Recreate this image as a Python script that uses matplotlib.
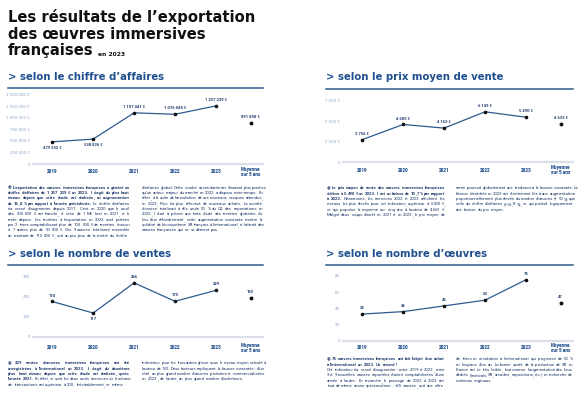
import numpy as np
import matplotlib.pyplot as plt
from matplotlib.lines import Line2D

# DATA

years = ["2019", "2020", "2021", "2022", "2023"]
avg_name = "Moyenne\nsur 5 ans"

ca_values = [479252, 538826, 1107441, 1076048, 1257239]
ca_avg = 891808
ca_ticks = [0, 250000, 500000, 750000, 1000000, 1250000, 1500000]

prix_values = [2756, 4605, 4163, 6149, 5490]
prix_avg = 4633
prix_ticks = [0, 2500, 5000, 7500]

ventes_values = [174, 117, 266, 175, 229]
ventes_avg = 192
ventes_ticks = [0, 100, 200, 300]

oeuvres_values = [33, 36, 43, 50, 75]
oeuvres_avg = 47
oeuvres_ticks = [0, 20, 40, 60, 80]

# TEXTS (lines as laid out in the reference, number of bold words per line)

p1_left = [
    "◉ L’exportation des œuvres immersives françaises a généré un",
    "chiffre d’affaires de 1 257 239 € en 2023. Il s’agit du plus haut",
    "niveau depuis que cette étude est réalisée, en augmentation",
    "de 16,8 % par rapport à l’année précédente. Le chiffre d’affaires",
    "n’a cessé d’augmenter depuis 2017. C’est en 2020 que le seuil",
    "des 500 000 € est franchi, et celui de 1 M€ l’est en 2021, et le",
    "reste depuis. Les recettes à l’exportation en 2023 sont portées",
    "par 2 titres comptabilisant plus de 100 000 € de recettes chacun",
    "et 7 autres plus de 50 000 €. Ces 9 œuvres totalisent ensemble",
    "un montant de 713 000 €, soit un peu plus de la moitié du chiffre",
]
p1_left_bold = [99, 99, 99, 8]
p1_right = [
    "d’affaires global. Cette courbe ascendante est d’autant plus positive",
    "qu’un acteur majeur du marché en 2022 a disparu entre-temps. En",
    "effet, à la suite de l’annulation de ses nouveaux casques attendus,",
    "en 2023, Pico n’a plus effectué de nouveaux achats. La société",
    "chinoise totalisait à elle seule 50 % du CA des exportations en",
    "2022, il était à prévoir une forte chute des recettes globales. Au",
    "lieu d’un effondrement, cette augmentation constante montre la",
    "solidité de l’écosystème XR français à l’international, et l’attrait des",
    "œuvres françaises qui ne se dément pas.",
]

p2_left = [
    "◉ Le prix moyen de vente des œuvres immersives françaises",
    "s’élève à 5 490 € en 2023. Il est en baisse de 10,7 % par rapport",
    "à 2022. Néanmoins, les exercices 2022 et 2023 affichent les",
    "niveaux les plus élevés pour cet indicateur, supérieur à 5 000 €,",
    "ce qui propulse la moyenne sur cinq ans à hauteur de 4 633 €.",
    "Malgré deux coups d’arrêt en 2021 et en 2023, le prix moyen de",
]
p2_left_bold = [99, 99, 2]
p2_right = [
    "vente poursuit globalement une tendance à la hausse constante. La",
    "flexion identifiée en 2023 est étroitement liée à une augmentation",
    "proportionnellement plus élevée du nombre d’œuvres (+ 50 %) que",
    "celle du chiffre d’affaires (+16,8 %), ce qui produit logiquement",
    "une baisse du prix moyen.",
]

p3_left = [
    "◉ 229 ventes d’œuvres immersives françaises ont été",
    "enregistrées à l’international en 2023. Il s’agit du deuxième",
    "plus haut niveau depuis que cette étude est réalisée, après",
    "l’année 2021. En effet, ce sont les deux seuls exercices où le volume",
    "de transactions est supérieur à 200. Inévitablement, ce même",
]
p3_left_bold = [99, 99, 99, 2]
p3_right = [
    "indicateur pour les trois autres glisse sous le niveau moyen calculé à",
    "hauteur de 192. Deux facteurs expliquent la hausse constatée : d’un",
    "côté, un plus grand nombre d’œuvres produites et commercialisées",
    "en 2023 ; de l’autre, un plus grand nombre d’acheteurs.",
]

p4_left = [
    "◉ 75 œuvres immersives françaises ont fait l’objet d’un achat",
    "à l’international en 2023. Un record !",
    "Cet indicateur n’a cessé d’augmenter : entre 2019 et 2022, entre",
    "3 et 9 nouvelles œuvres exportées étaient comptabilisées d’une",
    "année à l’autre. En revanche, le passage de 2022 à 2023 est",
    "tout de même assez spectaculaire : +25 œuvres, soit une offre",
]
p4_left_bold = [99, 99]
p4_right = [
    "de titres en circulation à l’international qui progresse de 50 %",
    "en l’espace d’un an. La bonne santé de la production de XR en",
    "France est ici très lisible, tout comme l’augmentation des lieux",
    "dédiés (festivals XR, arcades, expositions, etc.) en recherche de",
    "contenus originaux.",
]

# STYLE

W, H = 586, 399
FONT = ["Roboto", "DejaVu Sans"]
HEAD = ["DejaVu Sans"]
BLUE = "#1f4f8f"
NAVY = "#1d3a6b"
LINE = "#2d5b8e"
TICK = "#8aa3c6"
BASE = "#dcdeea"
BODY = 3.1

fig = plt.figure(figsize=(W / 100, H / 100), dpi=100)
fig.patch.set_facecolor("white")
renderer = fig.canvas.get_renderer()


def fx(x):
    return x / W


def fy(y):
    return 1 - y / H


def euro(v):
    return f"{v:,}".replace(",", " ") + " €"


def plain(v):
    return str(v)


# TITLE

fig.text(fx(8), fy(22), "Les résultats de l’exportation", family=HEAD,
         fontsize=10.6, fontweight="bold", color="#111111", va="baseline")
fig.text(fx(8), fy(39), "des œuvres immersives", family=HEAD,
         fontsize=10.6, fontweight="bold", color="#111111", va="baseline")
t3 = fig.text(fx(8), fy(55.5), "françaises", family=HEAD,
              fontsize=10.6, fontweight="bold", color="#111111", va="baseline")
t3_end = 8 + t3.get_window_extent(renderer).width
fig.text(fx(t3_end + 4), fy(55.5), "en 2023", family=HEAD,
         fontsize=4.3, fontweight="bold", color="#111111", va="baseline")


# SECTION HEADINGS

def heading(x0, x1, y, text):
    fig.text(fx(x0), fy(y), "> " + text, family=HEAD, fontsize=7.3,
             fontweight="bold", color=BLUE, va="baseline")
    fig.add_artist(Line2D([fx(x0), fx(x1)], [fy(y + 8), fy(y + 8)],
                          color=LINE, lw=1.1))


heading(8, 263, 80, "selon le chiffre d’affaires")
heading(326, 573, 80.5, "selon le prix moyen de vente")
heading(8, 263, 257, "selon le nombre de ventes")
heading(326, 573, 257, "selon le nombre d’œuvres")


# CHARTS

x_pos = np.arange(len(years))
x_avg = 4.85


def chart(left, right, top, bottom, values, avg, ticks, fmt, below, lab_off):
    ax = fig.add_axes([fx(left), fy(bottom), (right - left) / W,
                       (bottom - top) / H])
    ax.set_xlim(-0.47, 5.15)
    ax.set_ylim(0, ticks[-1])
    ax.patch.set_alpha(0)
    for s in ax.spines.values():
        s.set_visible(False)
    ax.axhline(0, color=BASE, lw=1.6, clip_on=False, zorder=1)
    ax.plot(x_pos, values, color=LINE, lw=0.9, marker="o", ms=1.6,
            mfc="#111111", mec="#111111", clip_on=False, zorder=3)
    ax.plot([x_avg], [avg], marker="o", ms=1.8, color="#111111",
            clip_on=False, zorder=3)
    for i, v in enumerate(values):
        dy = -4.3 if i in below else 4.3
        ax.annotate(fmt(v), (x_pos[i], v), xytext=(0, dy),
                    textcoords="offset points", ha="center", va="center",
                    fontsize=3, fontweight="bold", color=NAVY, family=FONT)
    ax.annotate(fmt(avg), (x_avg, avg), xytext=(0, 4.3),
                textcoords="offset points", ha="center", va="center",
                fontsize=3, fontweight="bold", color=NAVY, family=FONT)
    ax.set_xticks([])
    ax.set_yticks(ticks)
    ax.set_yticklabels(["0"] + [fmt(t) for t in ticks[1:]])
    ax.tick_params(axis="y", length=0, pad=2.2, labelsize=2.8,
                   labelcolor=TICK)
    dy = -lab_off / (bottom - top)
    tr = ax.get_xaxis_transform()
    for x, name in zip(list(x_pos) + [x_avg], years + [avg_name]):
        ax.text(x, dy, name, transform=tr, ha="center", va="center",
                fontsize=3.3, fontweight="heavy", color=BLUE, family=FONT,
                linespacing=1.0)
    return ax


chart(33, 263, 94.7, 164, ca_values, ca_avg, ca_ticks, euro, [0, 1], 7.7)
chart(343, 573, 100.7, 162.3, prix_values, prix_avg, prix_ticks, euro, [], 7.7)
chart(33, 263, 276, 336.7, ventes_values, ventes_avg, ventes_ticks, plain,
      [1], 11)
chart(343, 573, 275.7, 341, oeuvres_values, oeuvres_avg, oeuvres_ticks,
      plain, [], 6.5)


# PARAGRAPHS (justified, word by word; commas drawn on their own so the
# words keep a common baseline)

def word_family(word):
    return "DejaVu Sans" if word == "◉" else "Roboto"


def text_width(s, family, weight):
    t = fig.text(0, 0, s, family=family, fontsize=BODY, fontweight=weight)
    w = t.get_window_extent(renderer).width
    t.remove()
    return w


def parts(word):
    out = []
    for k, piece in enumerate(word.split(",")):
        if k > 0:
            out.append(",")
        if piece:
            out.append(piece)
    return out


def word_width(word, weight):
    return sum(text_width(p, word_family(word), weight) for p in parts(word))


def draw_word(x, y, word, weight):
    for p in parts(word):
        fig.text(fx(x), fy(y), p, family=word_family(word), fontsize=BODY,
                 fontweight=weight, color=NAVY, va="baseline")
        x += text_width(p, word_family(word), weight)


space = text_width("a a", "Roboto", "normal") - 2 * text_width("a", "Roboto", "normal")


def column(x0, x1, y0, lines, bold=(), free=()):
    for j, line in enumerate(lines):
        words = line.split(" ")
        nb = bold[j] if j < len(bold) else 0
        weights = ["bold" if k < nb else "normal" for k in range(len(words))]
        widths = [word_width(w, wt) for w, wt in zip(words, weights)]
        last = j == len(lines) - 1
        if last or j in free or len(words) < 2:
            gap = space
        else:
            gap = (x1 - x0 - sum(widths)) / (len(words) - 1)
            gap = max(gap, 0.6 * space)
        x = x0
        y = y0 + j * 5.33 + 1.1
        for w, wt, wd in zip(words, weights, widths):
            draw_word(x, y, w, wt)
            x += wd + gap


column(8, 130, 187.5, p1_left, p1_left_bold)
column(142, 263, 187.5, p1_right)
column(327, 445, 188.3, p2_left, p2_left_bold)
column(456, 573, 188.3, p2_right)
column(8, 130, 363.3, p3_left, p3_left_bold)
column(142, 263, 363.3, p3_right)
column(327, 445, 359.3, p4_left, p4_left_bold, free=[1])
column(456, 573, 359.3, p4_right)

plt.savefig("out.png", dpi=100, facecolor="white")
